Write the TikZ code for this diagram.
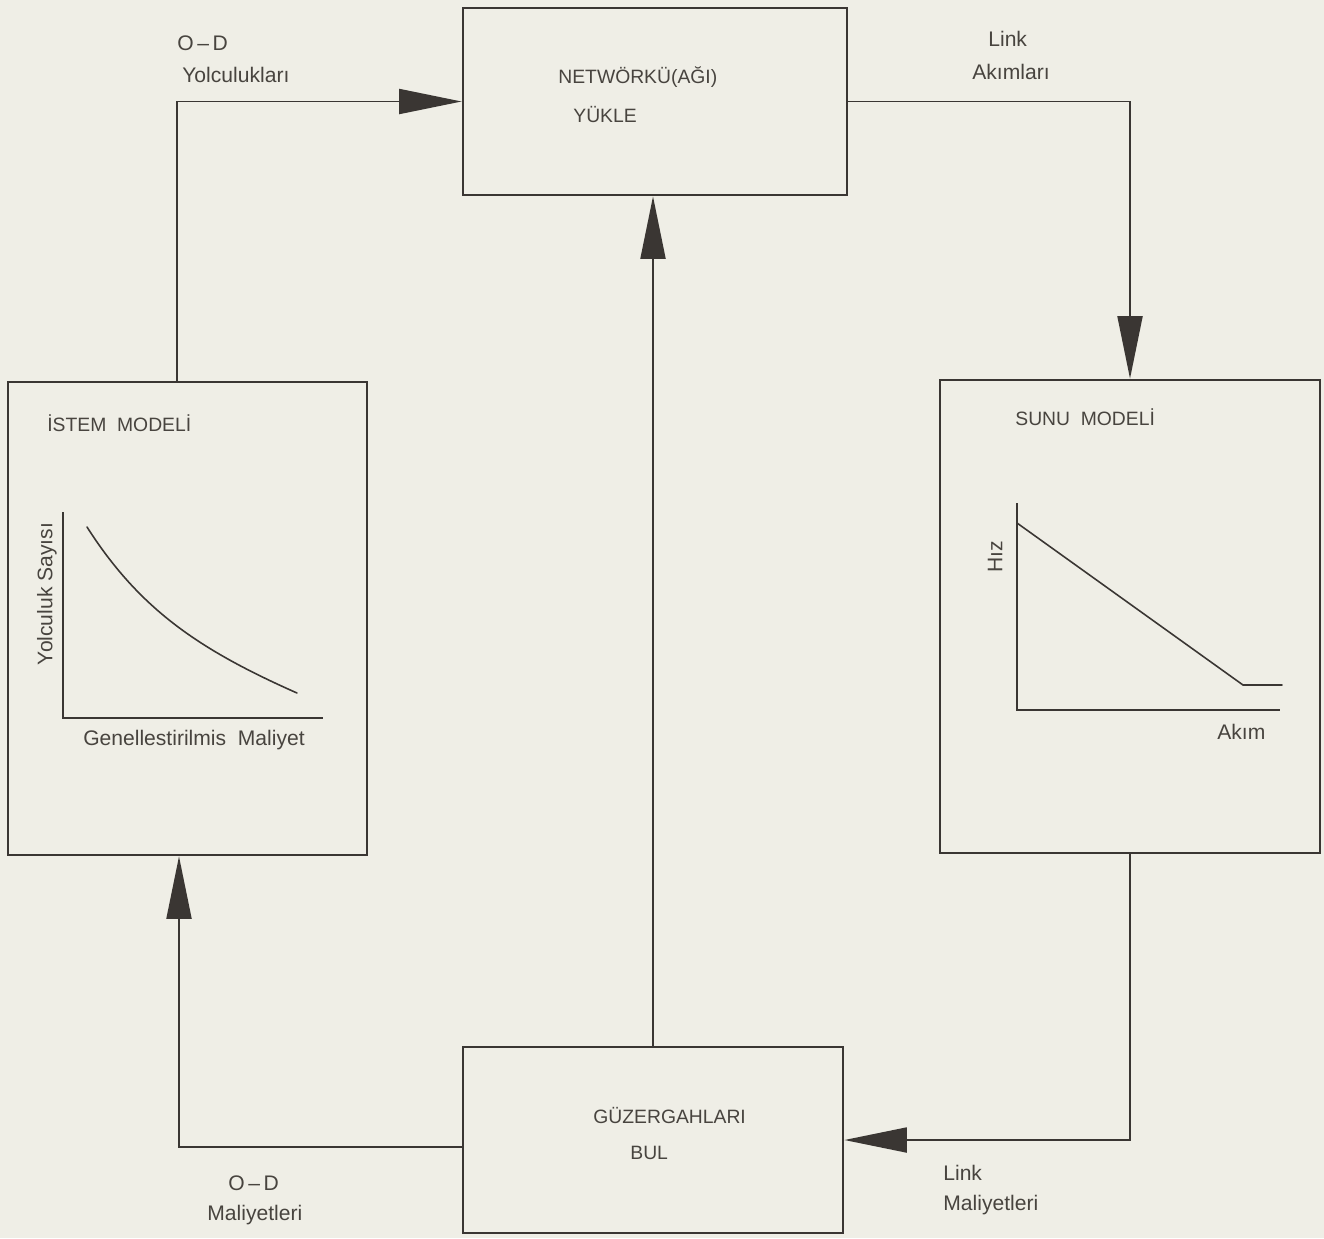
\documentclass[tikz,border=0pt]{standalone}
\usepackage{fontspec}
\setmainfont{Liberation Sans}
\usetikzlibrary{arrows.meta}
\definecolor{paper}{HTML}{EFEEE6}
\definecolor{ink}{HTML}{3A3633}
\definecolor{inktext}{HTML}{48443F}
\tikzset{
  box/.style={draw=ink, line width=1.6pt, rectangle, inner sep=0pt},
  conn/.style={draw=ink, line width=1.1pt, -{Triangle[length=1.25cm,width=0.5cm]}},
  axis/.style={draw=ink, line width=1.1pt, line join=miter},
  curve/.style={draw=ink, line width=0.9pt, line cap=round},
  lab/.style={text=inktext, font=\fontsize{12}{14}\selectfont, inner sep=0pt, anchor=west},
  boxtxt/.style={text=inktext, font=\fontsize{11}{13}\selectfont, inner sep=0pt, anchor=west},
}

\begin{document}
\begin{tikzpicture}[x=0.02cm, y=-0.02cm]
  \fill[paper] (0,0) rectangle (1324,1238);
  \useasboundingbox (0,0) rectangle (1324,1238);

  % boxes
  \node[box, minimum width=7.68cm, minimum height=3.74cm] (ag) at (655,101.5) {};
  \node[box, minimum width=7.18cm, minimum height=9.46cm] (istem) at (187.5,618.5) {};
  \node[box, minimum width=7.6cm, minimum height=9.46cm] (sunu) at (1130,616.5) {};
  \node[box, minimum width=7.6cm, minimum height=3.72cm] (bul) at (653,1140) {};

  \node[boxtxt] (agA) at (558,77) {NETWÖRKÜ(AĞI)};
  \node[boxtxt] (agB) at (573,115) {YÜKLE};
  \node[boxtxt] (istemT) at (47,423) {İSTEM\ \ MODELİ};
  \node[boxtxt] (sunuT) at (1015,417) {SUNU\ \ MODELİ};
  \node[boxtxt] (bulA) at (593,1115) {GÜZERGAHLARI};
  \node[boxtxt] (bulB) at (630,1153) {BUL};

  % connectors
  \draw[conn] ([xshift=-0.21cm]istem.north) |- (ag.west);
  \draw[conn] (ag.east) -| (sunu.north);
  \draw[conn] (sunu.south) |- (bul.east);
  \draw[conn] (bul.north) -- (bul.north |- ag.south);
  \draw[conn] ([yshift=-0.14cm]bul.west) -| ([xshift=-0.17cm]istem.south);

  \node[lab] (odA) at (177,43) {O\,--\,D};
  \node[lab] (odB) at (182,75) {Yolculukları};
  \node[lab] (lkA) at (988,39) {Link};
  \node[lab] (lkB) at (972,72) {Akımları};
  \node[lab] (lmA) at (943,1173) {Link};
  \node[lab] (lmB) at (943,1205) {Maliyetleri};
  \node[lab] (omA) at (228,1183) {O\,--\,D};
  \node[lab] (omB) at (207,1215) {Maliyetleri};

  % istem graph
  \draw[axis] (63,512) -- (63,718) -- (323,718);
  \draw[curve] (87,527) .. controls (140,610) and (200,650) .. (297,693);
  \node[lab, anchor=center, rotate=90] (ys) at (47,594) {Yolculuk Sayısı};
  \node[lab, anchor=center] (gm) at (194,740) {Genellestirilmis\ \ Maliyet};

  % sunu graph
  \draw[axis] (1017,503) -- (1017,710) -- (1280,710);
  \draw[curve] (1017,523) -- (1243,685) -- (1282,685);
  \node[lab, anchor=center, rotate=90] (hz) at (995,557) {Hız};
  \node[lab] (ak) at (1217,732) {Akım};
\end{tikzpicture}
\end{document}
